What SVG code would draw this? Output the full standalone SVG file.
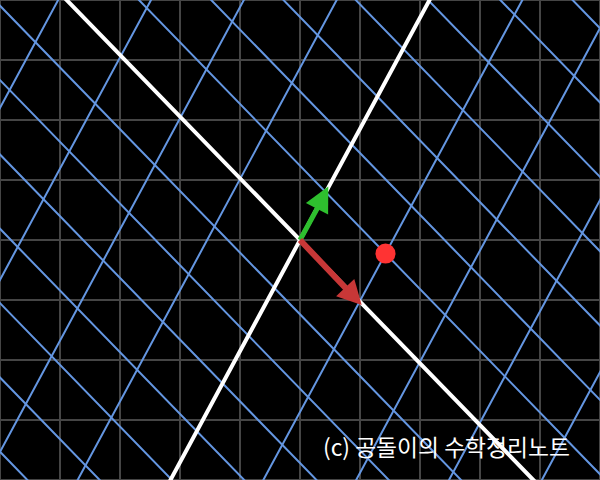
<svg xmlns="http://www.w3.org/2000/svg" width="600" height="480" viewBox="0 0 600 480">
<style>
.grid{stroke:#454545;stroke-width:2;fill:none}
.blue{stroke:#6496E1;stroke-width:2;fill:none;vector-effect:non-scaling-stroke}
.axis{stroke:#FFFFFF;stroke-width:4;fill:none;vector-effect:non-scaling-stroke}
.label{font-family:"Noto Sans CJK KR","Noto Sans",sans-serif;font-size:22.8px;fill:#FFFFFF}
</style>
<rect x="0" y="0" width="600" height="480" fill="#000000"/>
<g id="background-grid" class="grid">
<path d="M0 0V480M60 0V480M120 0V480M180 0V480M240 0V480M300 0V480M360 0V480M420 0V480M480 0V480M540 0V480M600 0V480"/>
<path d="M0 0H600M0 60H600M0 120H600M0 180H600M0 240H600M0 300H600M0 360H600M0 420H600M0 480H600"/>
</g>
<g id="connectors">
<g id="transformed-grid" transform="matrix(59.7 61.4 25.8 -47.8 300 240)">
<path class="blue" d="M-4 -12V12M-3 -12V12M-2 -12V12M-1 -12V12M1 -12V12M2 -12V12M3 -12V12M4 -12V12M5 -12V12"/>
<path class="blue" d="M-12 -8H12M-12 -7H12M-12 -6H12M-12 -5H12M-12 -4H12M-12 -3H12M-12 -2H12M-12 -1H12M-12 1H12M-12 2H12M-12 3H12M-12 4H12M-12 5H12M-12 6H12M-12 7H12M-12 8H12"/>
<path class="axis" d="M0 -12V12M-12 0H12"/>
</g>
</g>
<g id="vector-j">
<line x1="300" y1="240" x2="318" y2="207" stroke="#2EBF2E" stroke-width="5"/>
<polygon points="328.3,186.5 328.1,214.4 305.9,203" fill="#2EBF2E"/>
</g>
<g id="vector-i">
<line x1="300" y1="240" x2="346" y2="288.5" stroke="#C83737" stroke-width="6"/>
<polygon points="361.7,305 354.3,279 336.1,296.2" fill="#C83737"/>
</g>
<g id="point">
<circle cx="385.5" cy="253.6" r="10" fill="#FF3333"/>
</g>
<g id="watermark">
<text class="label" x="323" y="456">(c) 공돌이의 수학정리노트</text>
</g>
</svg>
